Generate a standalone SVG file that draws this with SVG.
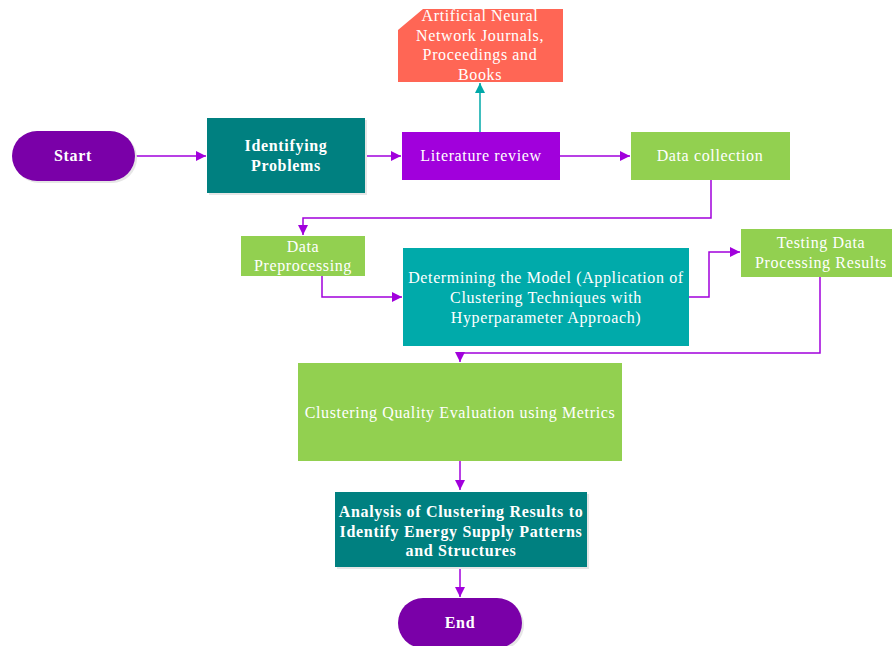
<svg xmlns="http://www.w3.org/2000/svg" width="892" height="646" viewBox="0 0 892 646">
<defs>
<style>
text{font-family:"Liberation Serif","Times New Roman",serif;font-size:16px;letter-spacing:0.63px;fill:#fff;text-anchor:middle}
.b{font-weight:bold;letter-spacing:0.68px}
.c{stroke:#A100DC;stroke-width:1.5;fill:none}
.t{stroke:#00A8A8;stroke-width:1.5;fill:none}
.sh{fill:#E6E6E6}
</style>
<marker id="ap" viewBox="0 0 10 10" refX="10" refY="5" markerWidth="10" markerHeight="10" markerUnits="userSpaceOnUse" orient="auto"><path d="M0,0L10,5L0,10z" fill="#A100DC"/></marker>
<marker id="at" viewBox="0 0 10 10" refX="10" refY="5" markerWidth="10" markerHeight="10" markerUnits="userSpaceOnUse" orient="auto"><path d="M0,0L10,5L0,10z" fill="#00A8A8"/></marker>
</defs>
<rect width="892" height="646" fill="#fff"/>
<g id="connectors">
<path class="t" d="M480,132V83" marker-end="url(#at)"/>
<path class="c" d="M135,156H206" marker-end="url(#ap)"/>
<path class="c" d="M365,156H401" marker-end="url(#ap)"/>
<path class="c" d="M560,156H630" marker-end="url(#ap)"/>
<path class="c" d="M711,180V218H303V235" marker-end="url(#ap)"/>
<path class="c" d="M322,276V297H402" marker-end="url(#ap)"/>
<path class="c" d="M689,297H709V252H740" marker-end="url(#ap)"/>
<path class="c" d="M820,277V353H460V362" marker-end="url(#ap)"/>
<path class="c" d="M460,461V490" marker-end="url(#ap)"/>
<path class="c" d="M460,567V597" marker-end="url(#ap)"/>
</g>
<g id="ann">
<path d="M398,30L423,9H563V82H398Z" fill="#FF6655"/>
<text x="480" y="21">Artificial Neural</text>
<text x="480" y="41">Network Journals,</text>
<text x="480" y="60">Proceedings and</text>
<text x="480" y="80">Books</text>
</g>
<g id="start">
<rect class="sh" x="14" y="133" width="123" height="50" rx="25"/>
<rect x="12" y="131" width="123" height="50" rx="25" fill="#7A00A8"/>
<text class="b" x="73" y="161">Start</text>
</g>
<g id="identify">
<rect class="sh" x="209" y="120" width="158" height="75"/>
<rect x="207" y="118" width="158" height="75" fill="#008080"/>
<text class="b" x="286" y="151">Identifying</text>
<text class="b" x="286" y="171">Problems</text>
</g>
<g id="literature">
<rect x="402" y="132" width="158" height="48" fill="#A100DC"/>
<text x="481" y="161">Literature review</text>
</g>
<g id="collection">
<rect x="631" y="132" width="159" height="48" fill="#92D050"/>
<text x="710" y="161">Data collection</text>
</g>
<g id="preprocessing">
<rect x="241" y="236" width="124" height="40" fill="#92D050"/>
<text x="303" y="252">Data</text>
<text x="303" y="271">Preprocessing</text>
</g>
<g id="model">
<rect x="403" y="248" width="286" height="98" fill="#00AAAA"/>
<text x="546" y="283">Determining the Model (Application of</text>
<text x="546" y="303">Clustering Techniques with</text>
<text x="546" y="323">Hyperparameter Approach)</text>
</g>
<g id="testing">
<rect x="741" y="229" width="151" height="48" fill="#92D050"/>
<text x="821" y="248">Testing Data</text>
<text x="821" y="268">Processing Results</text>
</g>
<g id="evaluation">
<rect x="298" y="363" width="324" height="98" fill="#92D050"/>
<text x="460" y="418">Clustering Quality Evaluation using Metrics</text>
</g>
<g id="analysis">
<rect class="sh" x="337" y="494" width="252" height="75"/>
<rect x="335" y="492" width="252" height="75" fill="#008080"/>
<text class="b" x="461" y="517">Analysis of Clustering Results to</text>
<text class="b" x="461" y="537">Identify Energy Supply Patterns</text>
<text class="b" x="461" y="556">and Structures</text>
</g>
<g id="end">
<rect class="sh" x="400" y="600" width="124" height="50" rx="25"/>
<rect x="398" y="598" width="124" height="50" rx="25" fill="#7A00A8"/>
<text class="b" x="460" y="628">End</text>
</g>
</svg>
